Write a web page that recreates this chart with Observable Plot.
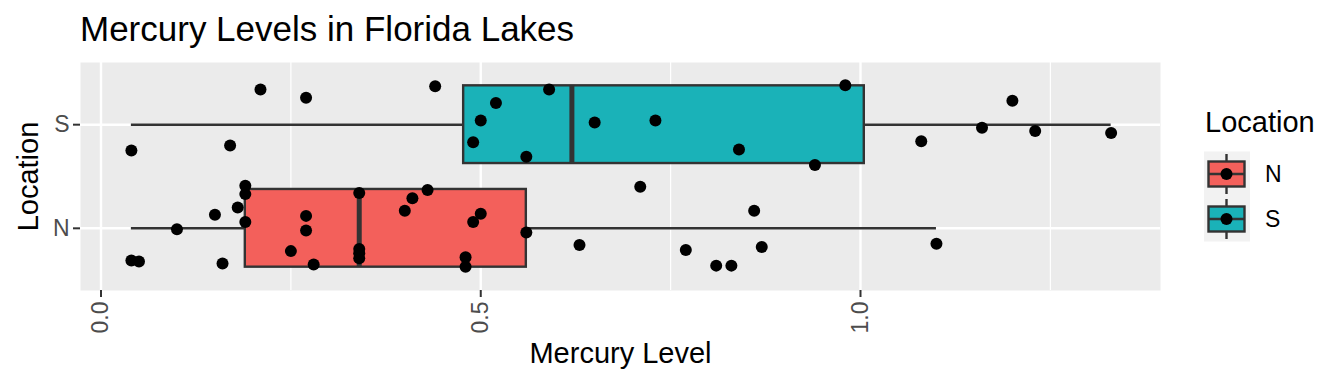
<!DOCTYPE html>
<html>
<head>
<meta charset="utf-8">
<script src="https://cdn.jsdelivr.net/npm/d3@7"></script>
<script src="https://cdn.jsdelivr.net/npm/@observablehq/plot@0.6"></script>
<style>
  html, body { margin: 0; padding: 0; background: #fff; }
  body { width: 1344px; height: 384px; position: relative; overflow: hidden;
         font-family: "Liberation Sans", Arial, Helvetica, sans-serif; }
  #title { height: 56px; box-sizing: border-box; padding-top: 11px; padding-left: 80px;
           font-size: 35px; line-height: 35px; color: #000; white-space: nowrap; }
  #legend { position: absolute; left: 1190px; top: 95px; }
</style>
</head>
<body>
<div id="title">Mercury Levels in Florida Lakes</div>
<div id="chart"></div>
<svg id="legend" width="150" height="160"></svg>
<script>
// ---- data ----
const locations = ["N", "S"];
const fills = ["#F3605B", "#1AB2B8"];

const mercuryN = [0.04, 0.05, 0.10, 0.15, 0.16, 0.18, 0.19, 0.19, 0.19, 0.25, 0.27, 0.27, 0.28,
                  0.34, 0.34, 0.34, 0.34, 0.40, 0.41, 0.43, 0.48, 0.48, 0.49, 0.50, 0.56, 0.63,
                  0.71, 0.77, 0.81, 0.83, 0.86, 0.87, 1.10];
const jitterN = [-0.31, -0.32, -0.01, 0.13, -0.34, 0.20, 0.41, 0.33, 0.06, -0.22, 0.12, -0.02, -0.35,
                 0.34, -0.20, -0.29, -0.24, 0.17, 0.29, 0.37, -0.28, -0.37, 0.06, 0.14, -0.04, -0.16,
                 0.40, -0.21, -0.36, -0.36, 0.17, -0.18, -0.15];

const mercuryS = [0.04, 0.17, 0.21, 0.27, 0.44, 0.49, 0.50, 0.52, 0.56, 0.59, 0.65, 0.73, 0.84,
                  0.94, 0.98, 1.08, 1.16, 1.20, 1.23, 1.33];
const jitterS = [-0.25, -0.20, 0.34, 0.26, 0.37, -0.17, 0.04, 0.21, -0.31, 0.34, 0.02, 0.04, -0.24,
                 -0.39, 0.38, -0.16, -0.03, 0.23, -0.06, -0.08];

const xDomain = [-0.027, 1.395];
const xTicks = [0, 0.5, 1.0];
const xMinor = [0.25, 0.75, 1.25];

// ---- derived tables ----
const groups = [
  { loc: "N", pos: 1, values: mercuryN, jitter: jitterN },
  { loc: "S", pos: 2, values: mercuryS, jitter: jitterS }
];
const points = groups.flatMap(g => g.values.map((v, i) => ({ loc: g.loc, value: v, y: g.pos + g.jitter[i] })));
const boxes = groups.map(g => {
  const s = g.values.slice().sort(d3.ascending);
  const q1 = d3.quantileSorted(s, 0.25), med = d3.quantileSorted(s, 0.5), q3 = d3.quantileSorted(s, 0.75);
  const iqr = q3 - q1;
  const lo = d3.min(s.filter(v => v >= q1 - 1.5 * iqr));
  const hi = d3.max(s.filter(v => v <= q3 + 1.5 * iqr));
  return { loc: g.loc, pos: g.pos, q1, med, q3, lo, hi };
});

const font = '"Liberation Sans", Arial, Helvetica, sans-serif';

const chart = Plot.plot({
  width: 1344,
  height: 328,
  marginLeft: 80,
  marginRight: 184,
  marginTop: 6,
  marginBottom: 94,
  style: { fontFamily: font, fontSize: "23px", background: "transparent" },
  x: { domain: xDomain },
  y: { domain: [0.4, 2.6] },
  color: { domain: locations, range: fills },
  marks: [
    Plot.frame({ fill: "#EBEBEB", stroke: "none" }),
    Plot.ruleX(xMinor, { stroke: "#FFFFFF", strokeWidth: 1.2 }),
    Plot.ruleX(xTicks, { stroke: "#FFFFFF", strokeWidth: 2.4 }),
    Plot.ruleY([1, 2], { stroke: "#FFFFFF", strokeWidth: 2.4 }),
    Plot.ruleY(boxes, { y: "pos", x1: "lo", x2: "hi", stroke: "#333333", strokeWidth: 2.4 }),
    Plot.rect(boxes, { x1: "q1", x2: "q3", y1: d => d.pos - 0.375, y2: d => d.pos + 0.375,
                       fill: "loc", stroke: "#333333", strokeWidth: 2.4 }),
    Plot.ruleX(boxes, { x: "med", y1: d => d.pos - 0.375, y2: d => d.pos + 0.375,
                        stroke: "#333333", strokeWidth: 5 }),
    Plot.dot(points, { x: "value", y: "y", r: 6, fill: "#000000", stroke: "none" }),
    Plot.axisX({ ticks: xTicks, tickFormat: d3.format(".1f"), tickRotate: -90, tickSize: 7,
                 tickPadding: 4, fontSize: 23, stroke: "#333333", strokeWidth: 2, fill: "#4D4D4D",
                 label: null }),
    Plot.axisY({ ticks: [1, 2], tickFormat: d => locations[d - 1], tickSize: 7, tickPadding: 4,
                 fontSize: 23, stroke: "#333333", strokeWidth: 2, fill: "#4D4D4D", label: null }),
    Plot.text(["Mercury Level"], { frameAnchor: "bottom", dy: 63, fontSize: 29, fill: "#000000",
                                   textAnchor: "middle", lineAnchor: "middle" }),
    Plot.text(["Location"], { frameAnchor: "left", dx: -52, rotate: -90, fontSize: 29, fill: "#000000",
                              textAnchor: "middle", lineAnchor: "middle" })
  ]
});
document.getElementById("chart").appendChild(chart);

// ---- legend ----
const lg = d3.select("#legend");
lg.append("text").attr("x", 15).attr("y", 37).attr("font-size", 29)
  .attr("font-family", font).attr("fill", "#000").text("Location");
lg.append("rect").attr("x", 14).attr("y", 56.5).attr("width", 46).attr("height", 90).attr("fill", "#F2F2F2");
locations.forEach((loc, i) => {
  const cy = 79 + i * 45;
  const g = lg.append("g");
  g.append("line").attr("x1", 36.5).attr("x2", 36.5).attr("y1", cy - 20).attr("y2", cy + 20)
    .attr("stroke", "#333").attr("stroke-width", 2.4);
  g.append("rect").attr("x", 18.5).attr("y", cy - 12.5).attr("width", 36).attr("height", 25)
    .attr("fill", fills[i]).attr("stroke", "#333").attr("stroke-width", 2.4);
  g.append("line").attr("x1", 18.5).attr("x2", 54.5).attr("y1", cy).attr("y2", cy)
    .attr("stroke", "#333").attr("stroke-width", 2.4);
  g.append("circle").attr("cx", 36.5).attr("cy", cy).attr("r", 6).attr("fill", "#000");
  g.append("text").attr("x", 75).attr("y", cy + 8).attr("font-size", 23)
    .attr("font-family", font).attr("fill", "#000").text(loc);
});
</script>
</body>
</html>
